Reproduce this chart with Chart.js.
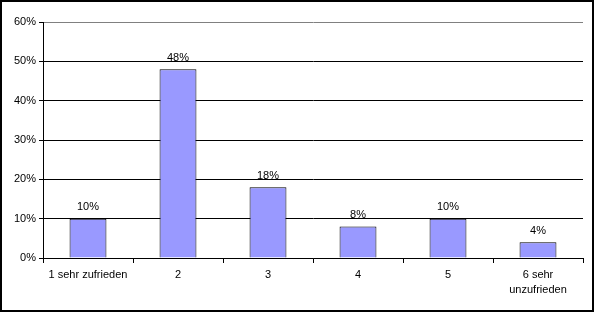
<!DOCTYPE html>
<html>
<head>
<meta charset="utf-8">
<script src="https://cdn.jsdelivr.net/npm/chart.js@4/dist/chart.umd.min.js"></script>
<style>
  html, body { margin: 0; padding: 0; background: #fff; }
  #wrap { width: 594px; height: 312px; position: relative; }
</style>
</head>
<body>
<div id="wrap"><canvas id="myChart" width="594" height="312"></canvas></div>
<script>
const categories = ['1 sehr zufrieden', '2', '3', '4', '5', ['6 sehr', 'unzufrieden']];
const percentValues = [10, 48, 18, 8, 10, 4];
const yTicks = [0, 10, 20, 30, 40, 50, 60];

const fontSpec = { family: "'Liberation Sans', Arial, sans-serif", size: 11 };

// value labels above each bar
const barLabels = {
    id: 'barLabels',
    afterDatasetsDraw(chart) {
        const c = chart.ctx;
        const meta = chart.getDatasetMeta(0);
        c.save();
        c.font = `11px ${fontSpec.family}`;
        c.fillStyle = '#000';
        c.textAlign = 'center';
        c.textBaseline = 'bottom';
        meta.data.forEach((bar, i) => {
            c.fillText(percentValues[i] + '%', bar.x, bar.y - 6);
        });
        c.restore();
    }
};

// outer frame round the whole picture
const frame = {
    id: 'frame',
    afterDraw(chart) {
        const c = chart.ctx;
        c.save();
        c.strokeStyle = '#000';
        c.lineWidth = 2;
        c.strokeRect(1, 1, chart.width - 2, chart.height - 2);
        c.restore();
    }
};

const ctx = document.getElementById('myChart');
new Chart(ctx, {
    type: 'bar',
    data: {
        labels: categories,
        datasets: [{
            data: percentValues,
            backgroundColor: '#9999FF',
            borderColor: '#000',
            borderWidth: 1,
            barPercentage: 0.41,
            categoryPercentage: 1
        }]
    },
    options: {
        responsive: false,
        animation: false,
        layout: { padding: { left: 0, top: 22, right: 11, bottom: 0 } },
        plugins: {
            legend: { display: false },
            tooltip: { enabled: false }
        },
        scales: {
            x: {
                offset: true,
                afterFit(scale) { scale.height = 54; },
                grid: {
                    offset: true,
                    drawOnChartArea: true,
                    color: (c) => c.index === categories.length ? '#808080' : 'rgba(0,0,0,0)',
                    tickColor: '#000',
                    tickLength: 5
                },
                border: { color: '#000', width: 1 },
                ticks: {
                    color: '#000',
                    font: { ...fontSpec, lineHeight: 1.4 },
                    padding: 4,
                    maxRotation: 0,
                    autoSkip: false
                }
            },
            y: {
                min: 0,
                max: 60,
                afterFit(scale) { scale.width = 43; },
                afterBuildTicks(scale) { scale.ticks = yTicks.map(v => ({ value: v })); },
                grid: {
                    color: (c) => c.tick && c.tick.value === 60 ? '#808080' : '#000',
                    tickColor: '#000',
                    tickLength: 4
                },
                border: { color: '#000', width: 1 },
                ticks: {
                    color: '#000',
                    font: fontSpec,
                    padding: 3,
                    callback: (v) => v + '%'
                }
            }
        }
    },
    plugins: [barLabels, frame]
});
</script>
</body>
</html>
